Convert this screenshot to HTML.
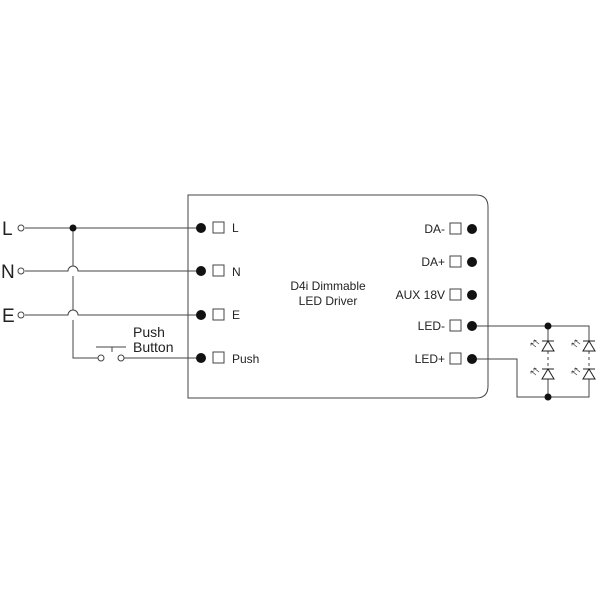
<!DOCTYPE html>
<html><head><style>body{margin:0;background:#fff}svg{display:block}text{font-family:"Liberation Sans",sans-serif;fill:#222}</style></head><body>
<svg width="600" height="600" viewBox="0 0 600 600">
<defs>
<g id="led">
<path d="M-6,0 L6,0 M-6,10 L6,10 L0,0 Z" fill="#fff" stroke="#222" stroke-width="1"/>
<path d="M-9,3 l-5,-4 M-12,6 l-5,-4" stroke="#444" stroke-width="0.8"/>
<path d="M-14,-1 l0,2.5 M-14,-1 l2.4,0.6 M-17,2 l0,2.5 M-17,2 l2.4,0.6" stroke="#444" stroke-width="0.8"/>
</g>
</defs>
<g fill="none" stroke="#444" stroke-width="1">
<path d="M188,195 H476 Q488,195 488,207 V386 Q488,398 476,398 H188 Z"/>
<path d="M25,228 H201"/>
<path d="M25,271 H68 A5,5 0 0 1 78,271 H201"/>
<path d="M25,315 H68 A5,5 0 0 1 78,315 H201"/>
<path d="M73,228 V266 M73,276 V310 M73,320 V358 H98"/>
<path d="M124,358 H201"/>
<path d="M96,347 H126 M112,347 V352"/>
<path d="M472,326 H589 V341 M548,326 V341"/>
<path d="M472,359 H517 V397 H589 V379 M548,397 V379"/>
<path d="M548,351 V369 M589,351 V369" stroke-dasharray="3,3"/>
</g>
<g fill="#fff" stroke="#444" stroke-width="1">
<circle cx="21" cy="228" r="3"/><circle cx="21" cy="271" r="3"/><circle cx="21" cy="315" r="3"/>
<circle cx="101" cy="358" r="3"/><circle cx="121" cy="358" r="3"/>
<rect x="213" y="222" width="11" height="11"/><rect x="213" y="265" width="11" height="11"/>
<rect x="213" y="309" width="11" height="11"/><rect x="213" y="352" width="11" height="11"/>
<rect x="450" y="223" width="11" height="11"/><rect x="450" y="256" width="11" height="11"/>
<rect x="450" y="289" width="11" height="11"/><rect x="450" y="320" width="11" height="11"/>
<rect x="450" y="353" width="11" height="11"/>
</g>
<g fill="#111">
<circle cx="73" cy="228" r="3.5"/>
<circle cx="201" cy="228" r="5"/><circle cx="201" cy="271" r="5"/><circle cx="201" cy="315" r="5"/><circle cx="201" cy="358" r="5"/>
<circle cx="472" cy="229" r="5"/><circle cx="472" cy="262" r="5"/><circle cx="472" cy="295" r="5"/><circle cx="472" cy="326" r="5"/><circle cx="472" cy="359" r="5"/>
<circle cx="548" cy="326" r="3.5"/><circle cx="548" cy="397" r="3.5"/>
</g>
<use href="#led" x="548" y="341"/><use href="#led" x="548" y="369"/>
<use href="#led" x="589" y="341"/><use href="#led" x="589" y="369"/>
<text x="2" y="235" font-size="19">L</text>
<text x="1" y="278" font-size="19">N</text>
<text x="2" y="322" font-size="19">E</text>
<text x="133" y="337" font-size="14">Push</text>
<text x="133" y="352" font-size="14">Button</text>
<g font-size="12">
<text x="232" y="232">L</text><text x="232" y="276">N</text><text x="232" y="319">E</text><text x="232" y="363">Push</text>
<text x="445" y="233" text-anchor="end">DA-</text><text x="445" y="266" text-anchor="end">DA+</text>
<text x="445" y="299" text-anchor="end">AUX 18V</text><text x="445" y="330" text-anchor="end">LED-</text>
<text x="445" y="363" text-anchor="end">LED+</text>
<text x="328" y="290" text-anchor="middle">D4i Dimmable</text>
<text x="328" y="305" text-anchor="middle">LED Driver</text>
</g>
</svg>
</body></html>
